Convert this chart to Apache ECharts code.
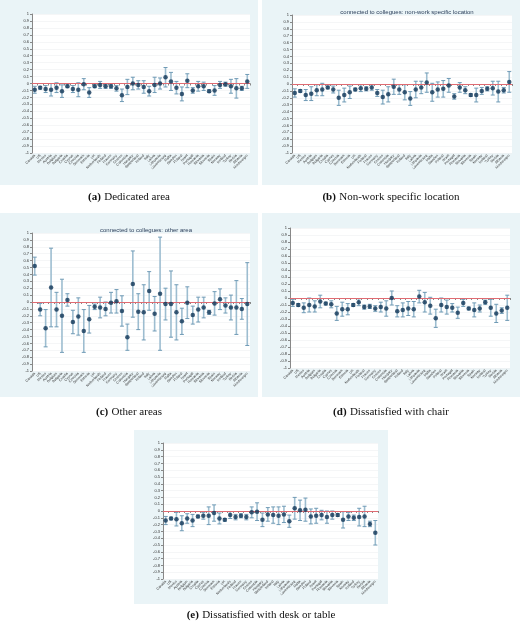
<!DOCTYPE html>
<html><head><meta charset="utf-8">
<script src="https://cdn.jsdelivr.net/npm/echarts@6/dist/echarts.min.js"></script>
<style>html,body{margin:0;padding:0;background:#fff}#c{width:520px;height:628px}</style>
</head><body><div id="c"></div>
<script>
// countries (x categories)
var countries = ["Canada","US","Mexico","Austria","Belgium","Bulgaria","Croatia","Cyprus","Czechia","Denmark",
  "Estonia","UK","Netherlands","Finland","France","Germany","Greece","Colombia","Hungary","Switzerland",
  "Ireland","Italy","Latvia","Lithuania","Luxembourg","Malta","Sweden","Poland","Israel","Portugal",
  "Romania","Slovakia","Slovenia","Spain","Norway","Iceland","Turkey","Serbia","Albania","Montenegro"];
var yTicks = [-1,-0.9,-0.8,-0.7,-0.6,-0.5,-0.4,-0.3,-0.2,-0.1,0,0.1,0.2,0.3,0.4,0.5,0.6,0.7,0.8,0.9,1];

// (a) dedicated area
var estA = [-0.09,-0.06,-0.08,-0.09,-0.06,-0.11,-0.04,-0.08,-0.09,-0.01,-0.13,-0.04,-0.02,-0.04,-0.04,-0.07,-0.17,-0.05,0.0,-0.02,-0.05,-0.11,-0.02,0.0,0.09,0.03,-0.06,-0.15,0.04,-0.1,-0.04,-0.04,-0.11,-0.1,-0.02,-0.01,-0.04,-0.07,-0.07,0.03];
var errA = [0.05,0.02,0.05,0.09,0.07,0.09,0.02,0.05,0.1,0.08,0.07,0.02,0.05,0.03,0.03,0.04,0.09,0.11,0.09,0.06,0.09,0.07,0.11,0.08,0.14,0.13,0.09,0.1,0.1,0.04,0.07,0.06,0.02,0.07,0.05,0.03,0.1,0.14,0.03,0.1];
// (b) non-work specific location
var estB = [-0.13,-0.10,-0.16,-0.14,-0.09,-0.08,-0.05,-0.08,-0.20,-0.16,-0.12,-0.08,-0.06,-0.07,-0.05,-0.13,-0.19,-0.15,-0.04,-0.08,-0.12,-0.21,-0.08,-0.05,0.02,-0.12,-0.08,-0.07,-0.02,-0.18,-0.05,-0.09,-0.16,-0.16,-0.10,-0.07,-0.06,-0.11,-0.09,0.03];
var errB = [0.06,0.02,0.08,0.1,0.08,0.09,0.02,0.05,0.11,0.1,0.09,0.02,0.05,0.03,0.04,0.05,0.1,0.11,0.11,0.07,0.11,0.1,0.12,0.09,0.14,0.13,0.11,0.12,0.1,0.04,0.07,0.05,0.02,0.1,0.05,0.03,0.1,0.15,0.04,0.15];
// (c) other areas
var estC = [0.52,-0.11,-0.38,0.21,-0.11,-0.2,0.03,-0.29,-0.21,-0.42,-0.25,-0.07,-0.08,-0.1,-0.01,0.01,-0.13,-0.51,0.26,-0.14,-0.15,0.16,-0.17,0.12,-0.03,-0.03,-0.15,-0.28,-0.01,-0.19,-0.11,-0.08,-0.15,-0.02,0.04,-0.05,-0.08,-0.08,-0.1,-0.03];
var errC = [0.13,0.09,0.27,0.57,0.25,0.53,0.09,0.17,0.27,0.31,0.2,0.04,0.15,0.1,0.15,0.17,0.22,0.19,0.48,0.26,0.4,0.28,0.25,0.82,0.23,0.48,0.4,0.19,0.23,0.13,0.18,0.15,0.03,0.17,0.15,0.11,0.18,0.39,0.15,0.6];
// (d) dissatisfied with chair
var estD = [-0.07,-0.10,-0.14,-0.10,-0.12,-0.05,-0.08,-0.09,-0.22,-0.16,-0.16,-0.10,-0.06,-0.13,-0.12,-0.15,-0.13,-0.15,0.0,-0.19,-0.17,-0.15,-0.16,0.02,-0.06,-0.11,-0.29,-0.10,-0.13,-0.14,-0.21,-0.07,-0.15,-0.17,-0.15,-0.06,-0.14,-0.22,-0.18,-0.14];
var errD = [0.05,0.02,0.07,0.1,0.08,0.09,0.02,0.05,0.1,0.1,0.08,0.02,0.05,0.03,0.03,0.04,0.07,0.11,0.1,0.08,0.1,0.1,0.11,0.09,0.14,0.12,0.13,0.1,0.1,0.06,0.08,0.05,0.02,0.1,0.05,0.03,0.12,0.13,0.04,0.18];
// (e) dissatisfied with desk or table
var estE = [-0.14,-0.11,-0.12,-0.18,-0.11,-0.14,-0.08,-0.07,-0.07,-0.03,-0.11,-0.13,-0.06,-0.09,-0.07,-0.09,-0.02,-0.01,-0.13,-0.05,-0.06,-0.07,-0.05,-0.15,0.04,0.01,0.02,-0.08,-0.07,-0.06,-0.09,-0.06,-0.06,-0.13,-0.08,-0.10,-0.09,-0.08,-0.19,-0.32];
var errE = [0.06,0.02,0.1,0.11,0.07,0.09,0.02,0.05,0.13,0.12,0.08,0.02,0.05,0.04,0.03,0.04,0.08,0.13,0.1,0.1,0.12,0.13,0.12,0.09,0.16,0.15,0.17,0.11,0.11,0.07,0.09,0.06,0.02,0.12,0.06,0.04,0.13,0.15,0.04,0.18];

var panels = [
  {est:estA, err:errA, title:"", grid:{left:32,top:14,width:218,height:139}, box:[0,0,258,185], cap:["(a)","Dedicated area"], capX:129, capY:197},
  {est:estB, err:errB, title:"connected to collegues: non-work specific location", grid:{left:292,top:15,width:220,height:138}, box:[262,0,258,185], cap:["(b)","Non-work specific location"], capX:391, capY:197},
  {est:estC, err:errC, title:"connected to collegues: other area", grid:{left:32,top:233,width:218,height:138}, box:[0,213,258,184], cap:["(c)","Other areas"], capX:129, capY:412},
  {est:estD, err:errD, title:"", grid:{left:290,top:228,width:220,height:140}, box:[262,213,258,184], cap:["(d)","Dissatisfied with chair"], capX:391, capY:412},
  {est:estE, err:errE, title:"", grid:{left:163,top:443,width:215,height:136}, box:[134,430,254,174], cap:["(e)","Dissatisfied with desk or table"], capX:261, capY:615}
];

var grids=[], xAxes=[], yAxes=[], series=[], graphics=[], titles=[];
panels.forEach(function(p, k){
  graphics.push({type:'rect', z:-10, shape:{x:p.box[0],y:p.box[1],width:p.box[2],height:p.box[3]}, style:{fill:'#eaf4f7'}});
  graphics.push({type:'text', x:p.capX, y:p.capY, style:{text:'{b|'+p.cap[0]+'} {r|'+p.cap[1]+'}', align:'center', verticalAlign:'middle',
    rich:{b:{fontWeight:'bold',fontSize:11,fontFamily:'Liberation Serif',fill:'#111'}, r:{fontSize:11,fontFamily:'Liberation Serif',fill:'#111'}}}});
  if(p.title) titles.push({text:p.title, left:p.grid.left+p.grid.width/2, top:p.grid.top-11, textAlign:'center',
    textStyle:{fontSize:6,fontWeight:'normal',color:'#2b3e5a',fontFamily:'Liberation Sans'}});
  grids.push(Object.assign({backgroundColor:'#fff', show:true, borderWidth:0}, p.grid));
  xAxes.push({type:'category', gridIndex:k, data:countries, boundaryGap:true,
    axisLine:{lineStyle:{color:'#888'}}, axisTick:{show:true,interval:0,length:2,lineStyle:{color:'#888'}},
    axisLabel:{interval:0, rotate:45, fontSize:3.5, margin:2, color:'#333'}, splitLine:{show:false}});
  yAxes.push({type:'value', gridIndex:k, min:-1, max:1, interval:0.1,
    axisLine:{show:true,lineStyle:{color:'#888'}}, axisTick:{show:true,length:2,lineStyle:{color:'#888'}},
    axisLabel:{fontSize:4, margin:3, color:'#333', formatter:function(v){return yTicks.indexOf(Math.round(v*10)/10)>=0?String(Math.round(v*10)/10):'';}},
    splitLine:{lineStyle:{color:'#eef0f2',width:0.6}}});
  var ci = p.est.map(function(v,i){return [i, v-p.err[i], v+p.err[i]];});
  series.push({type:'custom', xAxisIndex:k, yAxisIndex:k, data:ci, z:3,
    renderItem:function(params, api){
      var lo=api.coord([api.value(0),api.value(1)]), hi=api.coord([api.value(0),api.value(2)]);
      var c=2, st={stroke:'#6f9ab5', lineWidth:1};
      return {type:'group', children:[
        {type:'line', shape:{x1:lo[0],y1:lo[1],x2:hi[0],y2:hi[1]}, style:{stroke:'#9dbdd0',lineWidth:1.6}},
        {type:'line', shape:{x1:lo[0]-c,y1:lo[1],x2:lo[0]+c,y2:lo[1]}, style:st},
        {type:'line', shape:{x1:hi[0]-c,y1:hi[1],x2:hi[0]+c,y2:hi[1]}, style:st}
      ]};
    }});
  series.push({type:'scatter', xAxisIndex:k, yAxisIndex:k, data:p.est.map(function(v,i){return [i,v];}),
    symbol:'circle', symbolSize:4.5, itemStyle:{color:'#0f3556'}, z:5,
    markLine:{silent:true, symbol:['none','none'], label:{show:false}, animation:false,
      lineStyle:{color:'#e06b72',type:'solid',width:1.2},
      data:[{yAxis:0, lineStyle:{type:'solid',color:'#e06b72',width:1.2}}]}});
});

var myChart = echarts.init(document.getElementById('c'));
myChart.setOption({animation:false, title:titles, grid:grids, xAxis:xAxes, yAxis:yAxes, series:series, graphic:graphics});
</script></body></html>
